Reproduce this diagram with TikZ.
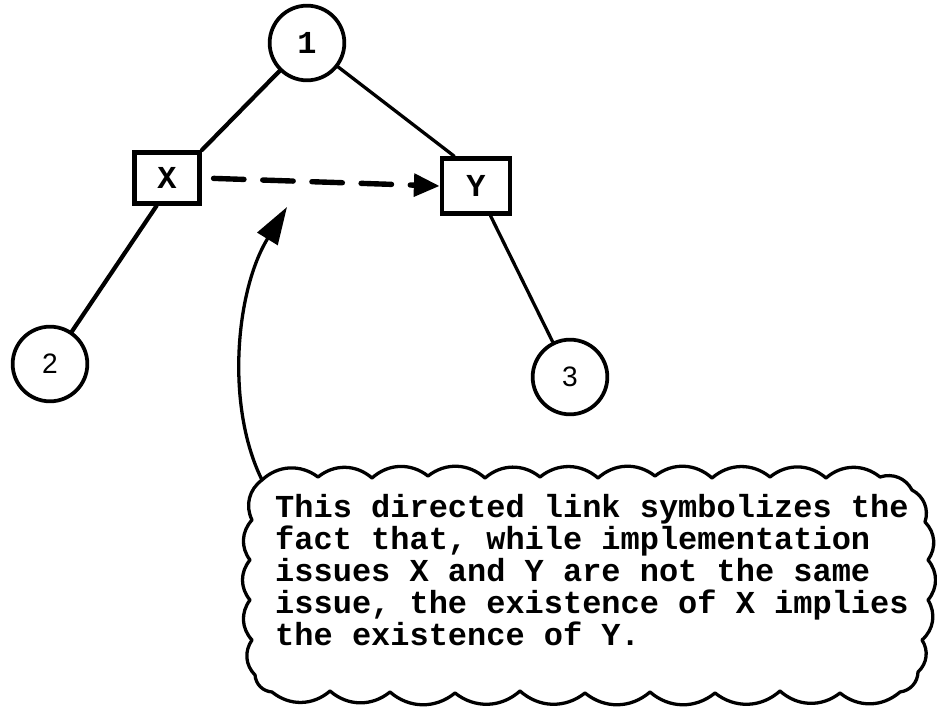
\documentclass[tikz,border=0pt]{standalone}
\usepackage{fontspec}
\usetikzlibrary{arrows.meta,calc}
\newfontfamily\typewriter{Liberation Mono}
\newfontfamily\numerals{Liberation Sans}
\begin{document}
\begin{tikzpicture}[x=0.03cm,y=-0.03cm,
  issue/.style={circle, draw, line width=3.2pt, minimum size=2.24cm, inner sep=0pt},
  implbox/.style={rectangle, draw, line width=4pt, inner sep=0pt},
  tw/.style={font=\typewriter\bfseries\fontsize{27.3pt}{27.2pt}\selectfont},
  sans/.style={font=\numerals\fontsize{24pt}{24pt}\selectfont},
  branch/.style={line width=2.8pt, line cap=round},
  implies/.style={line width=4.6pt, dash pattern=on 26pt off 16pt, line cap=round,
    -{Triangle[length=22pt, width=19pt]}},
  pointer/.style={line width=2.8pt, -{Triangle[length=32pt, width=20pt]}},
  cloudline/.style={line width=2.8pt, line join=round},
  scallop/.style={bend left=40}]
\useasboundingbox (0,0) rectangle (937,713);

% tree of issues
\node[issue, tw] (n1) at (307,43) {1};
\node[implbox, tw, minimum width=1.95cm, minimum height=1.53cm] (X) at (167,178) {X};
\node[implbox, tw, minimum width=2.04cm, minimum height=1.65cm] (Y) at (476,186) {Y};
\node[issue, sans] (n2) at (50,364) {2};
\node[issue, sans] (n3) at (570,377) {3};

\draw[branch, line width=3.6pt] (n1) -- (X.north east);
\draw[branch] (n1) -- ($(Y.north west)!0.2!(Y.north east)$);
\draw[branch, line width=3.6pt] ($(X.south west)!0.35!(X.south east)$) -- (n2);
\draw[branch] ($(Y.south west)!0.7!(Y.south east)$) -- (n3);

% directed link between the implementation issues
\draw[implies, shorten <=10pt] (X.east) -- (Y.west);

% explanatory note in a cloud
\coordinate (hook) at (262,480);
\draw[cloudline] (hook)
  \foreach \x/\y in {318/477, 372/478, 428/476, 485/478, 540/477, 598/478,
                     655/476, 712/478, 770/477, 826/478, 880/477, 912/490}
    {to[scallop] (\x,\y)}
  \foreach \x/\y in {925/522, 928/560, 928/600, 922/640, 918/672, 900/692}
    {to[scallop] (\x,\y)}
  \foreach \x/\y in {840/693, 780/691, 715/693, 650/692, 585/693, 520/691,
                     455/693, 390/692, 330/691, 272/692, 255/675}
    {to[scallop] (\x,\y)}
  \foreach \x/\y in {252/640, 250/600, 250/560, 252/520}
    {to[scallop] (\x,\y)}
  to[scallop] (hook) -- cycle;
% the base anchor of this block sits on its last line
\node[tw, anchor=base west, align=left, inner sep=0pt] (notetext) at (275,645)
  {This directed link symbolizes the\\
   fact that, while implementation\\
   issues X and Y are not the same\\
   issue, the existence of X implies\\
   the existence of Y.};
\coordinate (tip) at (287,207);
\draw[pointer] (hook) .. controls (225,405) and (236,290) .. (tip);
\end{tikzpicture}
\end{document}
